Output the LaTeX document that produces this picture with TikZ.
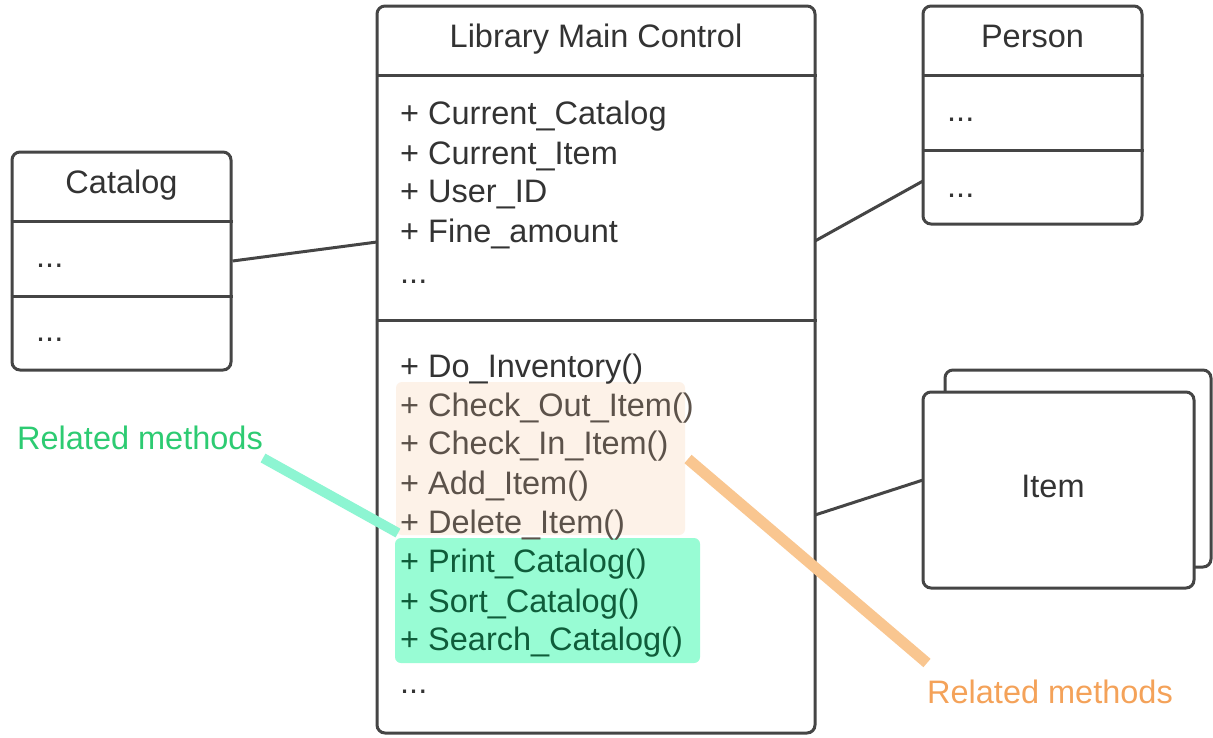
\documentclass[tikz,border=0pt]{standalone}
\usepackage{fontspec}
\setmainfont{Liberation Sans}
\definecolor{boxline}{HTML}{454545}
\definecolor{txt}{HTML}{333333}
\definecolor{peach}{HTML}{FDF2E8}
\definecolor{mint}{HTML}{98FCD4}
\definecolor{mintline}{HTML}{8DF5D2}
\definecolor{orangeline}{HTML}{F9C690}
\definecolor{greentxt}{HTML}{2DCB72}
\definecolor{orangetxt}{HTML}{F4A259}
\definecolor{darkgreen}{HTML}{0F5C3A}
\definecolor{browntxt}{HTML}{5C524A}
\tikzset{
  umlbox/.style={draw=boxline, line width=3pt, rounded corners=8pt, fill=white, inner sep=0pt},
  divider/.style={draw=boxline, line width=3pt},
  conn/.style={draw=boxline, line width=3pt},
  line/.style={anchor=west, inner sep=0pt, text height=23pt, text depth=0pt, text=txt, font=\fontsize{32.5}{38}\selectfont},
  title/.style={inner sep=0pt, text height=23pt, text depth=0pt, text=txt, font=\fontsize{32.5}{38}\selectfont},
  hilite/.style={rounded corners=6pt, draw=none},
  callout/.style={line width=11pt}
}
\begin{document}
\begin{tikzpicture}[x=1pt,y=-1pt]
\useasboundingbox (0,0) rectangle (1213,737);
% boxes
\node[umlbox, minimum width=438pt, minimum height=727pt] (main) at (596,369.5) {};
\node[umlbox, minimum width=219pt, minimum height=218pt] (catalog) at (121.5,261) {};
\node[umlbox, minimum width=219pt, minimum height=218pt] (person) at (1032.5,115) {};
\node[umlbox, minimum width=266pt, minimum height=197pt] (itemback) at (1078,468.5) {};
\node[umlbox, minimum width=271pt, minimum height=196pt] (item) at (1058.5,490) {};
% dividers
\draw[divider] (main.west |- 0,75) -- (main.east |- 0,75);
\draw[divider] (main.west |- 0,320) -- (main.east |- 0,320);
\draw[divider] (catalog.west |- 0,221) -- (catalog.east |- 0,221);
\draw[divider] (catalog.west |- 0,296) -- (catalog.east |- 0,296);
\draw[divider] (person.west |- 0,75) -- (person.east |- 0,75);
\draw[divider] (person.west |- 0,150) -- (person.east |- 0,150);
% highlights
\fill[hilite, peach] (396,382) rectangle (685,535);
\fill[hilite, mint] (395,538) rectangle (700,663);
% titles
\node[title] (tmain) at (596,36) {Library Main Control};
\node[title] (tcat) at (121.5,182) {Catalog};
\node[title] (tperson) at (1032.5,36) {Person};
\node[title] (titem) at (1053,486) {Item};
% attributes
\node[line] (a1) at (400,113) {+ Current\_Catalog};
\node[line] (a2) at (400,153) {+ Current\_Item};
\node[line] (a3) at (400,191) {+ User\_ID};
\node[line] (a4) at (400,231) {+ Fine\_amount};
\node[line] (a5) at (400,272) {...};
% methods
\node[line] (m1) at (400,366) {+ Do\_Inventory()};
\node[line, text=browntxt] (m2) at (400,405) {+ Check\_Out\_Item()};
\node[line, text=browntxt] (m3) at (400,443) {+ Check\_In\_Item()};
\node[line, text=browntxt] (m4) at (400,483) {+ Add\_Item()};
\node[line, text=browntxt] (m5) at (400,522) {+ Delete\_Item()};
\node[line, text=darkgreen] (m6) at (400,561) {+ Print\_Catalog()};
\node[line, text=darkgreen] (m7) at (400,601) {+ Sort\_Catalog()};
\node[line, text=darkgreen] (m8) at (400,639) {+ Search\_Catalog()};
\node[line] (m9) at (400,682) {...};
% catalog / person contents
\node[line] (c1) at (36,256) {...};
\node[line] (c2) at (36,330) {...};
\node[line] (p1) at (947,110) {...};
\node[line] (p2) at (947,186) {...};
% connector end points
\coordinate (mainL) at (377,242);
\coordinate (mainRp) at (815,241);
\coordinate (personL) at (923,181);
\coordinate (mainRi) at (815,515);
\coordinate (itemL) at (923,480);
\draw[conn] (catalog.east) -- (mainL);
\draw[conn] (mainRp) -- (personL);
\draw[conn] (mainRi) -- (itemL);
% related methods callouts
\node[title, text=greentxt] (lgreen) at (140,438) {Related methods};
\node[title, text=orangetxt] (lorange) at (1050,692) {Related methods};
\coordinate (gs) at (263,458);
\coordinate (ge) at (398,533);
\coordinate (os) at (688,459);
\coordinate (oe) at (927,663);
\draw[callout, mintline, line width=10pt] (gs) -- (ge);
\draw[callout, orangeline] (os) -- (oe);
\end{tikzpicture}
\end{document}
